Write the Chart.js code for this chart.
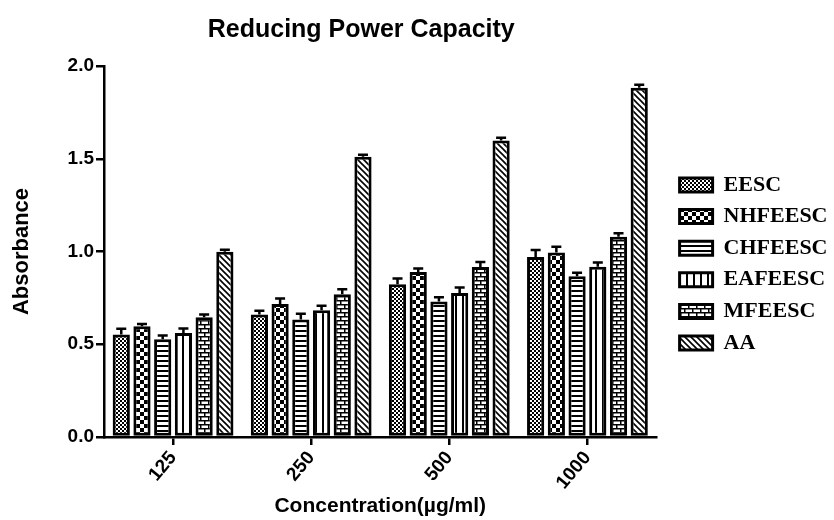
<!DOCTYPE html>
<html><head><meta charset="utf-8">
<script src="https://cdn.jsdelivr.net/npm/chart.js@4/dist/chart.umd.min.js"></script>
<style>html,body{margin:0;padding:0;background:#fff}</style>
</head><body>
<canvas id="c" width="834" height="520" style="width:834px;height:520px;display:block"></canvas>
<script>
// ---- data ----
const categories = ['125', '250', '500', '1000'];
const seriesNames = ['EESC', 'NHFEESC', 'CHFEESC', 'EAFEESC', 'MFEESC', 'AA'];
const EESC      = [0.553, 0.661, 0.823, 0.970];
const NHFEESC   = [0.597, 0.717, 0.889, 0.995];
const CHFEESC   = [0.527, 0.634, 0.730, 0.866];
const EAFEESC   = [0.560, 0.683, 0.776, 0.918];
const MFEESC    = [0.645, 0.769, 0.916, 1.080];
const AA        = [0.999, 1.511, 1.599, 1.883];
const EESC_err    = [0.030, 0.020, 0.032, 0.038];
const NHFEESC_err = [0.012, 0.030, 0.020, 0.030];
const CHFEESC_err = [0.020, 0.030, 0.023, 0.020];
const EAFEESC_err = [0.025, 0.025, 0.030, 0.023];
const MFEESC_err  = [0.015, 0.027, 0.027, 0.018];
const AA_err      = [0.010, 0.010, 0.014, 0.016];
const yTicks = [0.0, 0.5, 1.0, 1.5, 2.0];
const titleText = 'Reducing Power Capacity';
const xTitle = 'Concentration(\u00b5g/ml)';
const yTitle = 'Absorbance';

// ---- patterns ----
function makePattern(w, h, draw) {
  const c = document.createElement('canvas');
  c.width = w; c.height = h;
  const g = c.getContext('2d');
  g.fillStyle = '#fff'; g.fillRect(0, 0, w, h);
  g.fillStyle = '#000'; g.strokeStyle = '#000';
  draw(g, w, h);
  return document.getElementById('c').getContext('2d').createPattern(c, 'repeat');
}
const patterns = [
  makePattern(4, 4, g => { g.fillRect(0, 0, 2, 2); g.fillRect(2, 2, 2, 2); }),
  makePattern(8, 8, g => { g.fillRect(0, 0, 4, 4); g.fillRect(4, 4, 4, 4); }),
  makePattern(8, 5, g => { g.fillRect(0, 0, 8, 2); }),
  makePattern(7, 8, g => { g.fillRect(0, 0, 2, 8); }),
  makePattern(8, 8, g => { g.fillRect(0, 0, 8, 1.5); g.fillRect(0, 4, 8, 1.5); g.fillRect(0, 0, 1.5, 4); g.fillRect(4, 4, 1.5, 4); }),
  makePattern(6, 6, g => { g.lineWidth = 1.6; g.beginPath(); g.moveTo(-1, -1); g.lineTo(7, 7); g.moveTo(-4, 2); g.lineTo(2, 8); g.moveTo(4, -2); g.lineTo(10, 4); g.stroke(); })
];

const values = [EESC, NHFEESC, CHFEESC, EAFEESC, MFEESC, AA];
const errors = [EESC_err, NHFEESC_err, CHFEESC_err, EAFEESC_err, MFEESC_err, AA_err];

const datasets = seriesNames.map((n, i) => ({
  label: n,
  data: values[i],
  errors: errors[i],
  backgroundColor: patterns[i],
  borderColor: '#000',
  borderWidth: 3,
  borderSkipped: false,
  categoryPercentage: 0.9,
  barPercentage: 0.83
}));

const errorBars = {
  id: 'errorBars',
  afterDatasetsDraw(chart) {
    const ctx = chart.ctx, ys = chart.scales.y;
    ctx.save();
    ctx.strokeStyle = '#000';
    ctx.lineWidth = 2.5;
    chart.data.datasets.forEach((ds, di) => {
      const meta = chart.getDatasetMeta(di);
      meta.data.forEach((bar, j) => {
        const top = ys.getPixelForValue(ds.data[j] + ds.errors[j]);
        ctx.beginPath();
        ctx.moveTo(bar.x, bar.y);
        ctx.lineTo(bar.x, top);
        ctx.moveTo(bar.x - 5, top);
        ctx.lineTo(bar.x + 5, top);
        ctx.stroke();
      });
    });
    ctx.restore();
  }
};

// nudge legend and title boxes to the reference placement
const placeBoxes = {
  id: 'placeBoxes',
  afterLayout(chart) {
    const lg = chart.legend;
    if (lg) {
      const w = lg.width;
      lg.left = 670; lg.right = 670 + w;
      lg.top += 4; lg.bottom += 4;
    }
    const tb = chart.titleBlock;
    if (tb) { tb.left -= 19; tb.right -= 19; }
  }
};

const sans = 'Liberation Sans, Arial, sans-serif';
new Chart(document.getElementById('c'), {
  type: 'bar',
  data: { labels: categories, datasets },
  plugins: [errorBars, placeBoxes],
  options: {
    responsive: false,
    animation: false,
    events: [],
    layout: { padding: { left: 8, right: 10, top: 0, bottom: 0 } },
    plugins: {
      title: {
        display: true, text: titleText, fullSize: false,
        color: '#000', font: { family: sans, size: 25, weight: 'bold' },
        padding: { top: 15, bottom: 21 }
      },
      legend: {
        position: 'right',
        labels: {
          boxWidth: 33, boxHeight: 14, padding: 9.6, color: '#000',
          font: { family: 'Liberation Serif, Times New Roman, serif', size: 22, weight: 'bold' }
        }
      },
      tooltip: { enabled: false }
    },
    scales: {
      x: {
        grid: { display: true, drawOnChartArea: false, offset: false, color: '#000', lineWidth: 2.5, tickLength: 8 },
        border: { display: true, color: '#000', width: 2.5 },
        ticks: { color: '#000', font: { family: sans, size: 19, weight: 'bold' }, minRotation: 50, maxRotation: 50, padding: 2 },
        title: { display: true, text: xTitle, color: '#000', font: { family: sans, size: 21, weight: 'bold' }, padding: { top: 2, bottom: 1 } },
        afterFit: s => { s.height = 83; }
      },
      y: {
        min: 0, max: 2,
        grid: { display: true, drawOnChartArea: false, color: '#000', lineWidth: 2.5, tickLength: 8 },
        border: { display: true, color: '#000', width: 2.5 },
        afterBuildTicks: s => { s.ticks = yTicks.map(v => ({ value: v })); },
        ticks: { color: '#000', font: { family: sans, size: 19, weight: 'bold' }, padding: 2, callback: v => Number(v).toFixed(1) },
        title: { display: true, text: yTitle, color: '#000', font: { family: sans, size: 22, weight: 'bold' }, padding: { top: 1, bottom: 0 } },
        afterFit: s => { s.width = 96; }
      }
    }
  }
});
</script>
</body></html>
